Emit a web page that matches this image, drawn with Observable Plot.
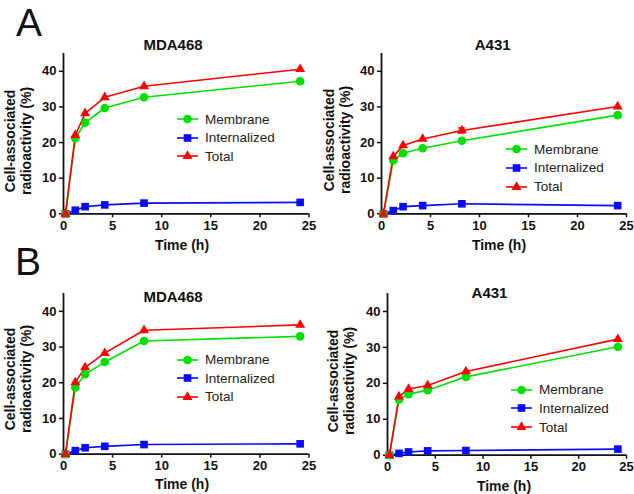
<!DOCTYPE html>
<html><head><meta charset="utf-8">
<script src="https://cdn.jsdelivr.net/npm/d3@7"></script>
<script src="https://cdn.jsdelivr.net/npm/@observablehq/plot@0.6"></script>
<style>
body{margin:0;background:#fff;}
#root{position:relative;width:634px;height:494px;overflow:hidden;font-family:"Liberation Sans",Arial,sans-serif;color:#111;}
.abs{position:absolute;white-space:nowrap;}
.plot{position:absolute;}
</style></head><body><div id="root"></div>
<script>
// ---- data ----
const times = [0.2, 1.2, 2.2, 4.2, 8.2, 24.1];
const seriesNames = ["Membrane", "Internalized", "Total"];
const panelTitles = ["MDA468", "A431", "MDA468", "A431"];
const panelLetters = ["A", "B"];
const xTicks = [0, 5, 10, 15, 20, 25];
const yTicks = [0, 10, 20, 30, 40];
const xLabel = "Time (h)";
const yLabelLines = ["Cell-associated", "radioactivity (%)"];

const membraneA_MDA = [0, 21.2, 25.6, 29.7, 32.7, 37.2];
const internalizedA_MDA = [0, 1.0, 2.0, 2.5, 3.0, 3.2];
const totalA_MDA = [0, 22.1, 28.2, 32.7, 35.8, 40.6];

const membraneA_A431 = [0, 15.0, 17.0, 18.4, 20.5, 27.7];
const internalizedA_A431 = [0, 0.9, 2.0, 2.3, 2.8, 2.3];
const totalA_A431 = [0, 16.1, 19.2, 21.0, 23.4, 30.1];
const totalErrA_A431 = [0, 0, 0, 0, 0.7, 0];

const membraneB_MDA = [0, 18.7, 22.4, 25.8, 31.7, 33.0];
const internalizedB_MDA = [0, 1.0, 1.8, 2.2, 2.7, 2.9];
const totalB_MDA = [0, 20.1, 24.3, 28.3, 34.7, 36.2];

const membraneB_A431 = [0, 15.5, 17.0, 18.1, 21.8, 30.2];
const internalizedB_A431 = [0, 0.5, 0.9, 1.2, 1.3, 1.7];
const totalB_A431 = [0, 16.3, 18.4, 19.4, 23.3, 32.3];

// ---- styles ----
const colors = ["#00e000", "#0a0aff", "#ff0000"];
const symbols = ["circle", "square", "triangle"];
const d3symbols = [d3.symbolCircle, d3.symbolSquare, d3.symbolTriangle];
const radii = [4.3, 4.3, 3.7];

const root = document.getElementById("root");

function addText(txt, cx, cy, style) {
  const d = document.createElement("div");
  d.className = "abs";
  d.textContent = txt;
  d.style.left = cx + "px";
  d.style.top = cy + "px";
  d.style.transform = "translate(-50%,-50%)";
  Object.assign(d.style, style || {});
  root.appendChild(d);
  return d;
}

function addYLabel(cx, cy) {
  const d = document.createElement("div");
  d.className = "abs";
  d.style.left = cx + "px";
  d.style.top = cy + "px";
  d.style.transform = "translate(-50%,-50%) rotate(-90deg)";
  d.style.textAlign = "center";
  d.style.fontWeight = "bold";
  d.style.fontSize = "14px";
  d.style.lineHeight = "16px";
  d.innerHTML = yLabelLines.join("<br>");
  root.appendChild(d);
}

function addLegend(x, rowYs) {
  seriesNames.forEach((name, i) => {
    const row = document.createElement("div");
    row.className = "abs";
    row.style.left = x + "px";
    row.style.top = (rowYs[i] - 9) + "px";
    row.style.height = "18px";
    row.style.display = "flex";
    row.style.alignItems = "center";
    const ns = "http://www.w3.org/2000/svg";
    const svg = document.createElementNS(ns, "svg");
    svg.setAttribute("width", 22); svg.setAttribute("height", 12);
    svg.style.overflow = "visible";
    const ln = document.createElementNS(ns, "line");
    ln.setAttribute("x1", 0); ln.setAttribute("x2", 21);
    ln.setAttribute("y1", 6); ln.setAttribute("y2", 6);
    ln.setAttribute("stroke", colors[i]); ln.setAttribute("stroke-width", 1.6);
    svg.appendChild(ln);
    const p = document.createElementNS(ns, "path");
    p.setAttribute("d", d3.symbol(d3symbols[i], Math.PI * radii[i] * radii[i])());
    p.setAttribute("transform", "translate(10.5,6)");
    p.setAttribute("fill", colors[i]);
    svg.appendChild(p);
    row.appendChild(svg);
    const t = document.createElement("span");
    t.textContent = name;
    t.style.fontSize = "13.5px";
    t.style.marginLeft = "6px";
    t.style.color = "#222";
    row.appendChild(t);
    root.appendChild(row);
  });
}

function panel(series, err, g) {
  const ml = 40, mt = 10, mr = 15, mb = 24;
  const w = g.x1 - g.x0 + ml + mr, h = g.yb - g.yt + mt + mb;
  const rows = [];
  series.forEach((vals, i) => vals.forEach((v, j) => rows.push({series: seriesNames[i], t: times[j], v, e: (i === 2 && err) ? err[j] : 0})));
  const errRows = rows.filter(d => d.e > 0);
  const order = ["Internalized", "Membrane", "Total"];
  const marks = [
    Plot.ruleY([0], {stroke: "#111", strokeWidth: 1.8}),
    Plot.ruleX([0], {stroke: "#111", strokeWidth: 1.8}),
    Plot.axisX({ticks: xTicks, tickSize: 4, tickPadding: 3, strokeWidth: 1.5, label: null, fontWeight: "bold", fontSize: 13}),
    Plot.axisY({ticks: yTicks, tickSize: 4, tickPadding: 3, strokeWidth: 1.5, label: null, fontWeight: "bold", fontSize: 13}),
  ];
  order.forEach(s => {
    const sub = rows.filter(d => d.series === s);
    marks.push(Plot.line(sub, {x: "t", y: "v", stroke: "series", strokeWidth: 1.6}));
  });
  marks.push(Plot.ruleX(errRows, {x: "t", y1: d => d.v - d.e, y2: d => d.v + d.e, stroke: "series", strokeWidth: 1.4}));
  marks.push(Plot.ruleY(errRows, {y: d => d.v + d.e, x1: d => d.t - 0.35, x2: d => d.t + 0.35, stroke: "series", strokeWidth: 1.4}));
  marks.push(Plot.ruleY(errRows, {y: d => d.v - d.e, x1: d => d.t - 0.35, x2: d => d.t + 0.35, stroke: "series", strokeWidth: 1.4}));
  order.forEach(s => {
    const sub = rows.filter(d => d.series === s);
    marks.push(Plot.dot(sub, {x: "t", y: "v", fill: "series", symbol: "series", r: radii[seriesNames.indexOf(s)]}));
  });
  const chart = Plot.plot({
    width: w, height: h,
    marginLeft: ml, marginRight: mr, marginTop: mt, marginBottom: mb,
    x: {domain: [0, 25]},
    y: {domain: [0, 45]},
    color: {domain: seriesNames, range: colors},
    symbol: {domain: seriesNames, range: symbols},
    style: {fontFamily: '"Liberation Sans", Arial, sans-serif', color: "#111", background: "transparent", overflow: "visible"},
    marks
  });
  chart.classList.add("plot");
  chart.style.left = (g.x0 - ml) + "px";
  chart.style.top = (g.yt - mt) + "px";
  root.appendChild(chart);
}

// panel geometry (layout only)
const geoms = [
  {x0: 62.5, x1: 308, yt: 53, yb: 213.3},
  {x0: 381, x1: 626, yt: 53, yb: 213.3},
  {x0: 62.5, x1: 308, yt: 293.3, yb: 454},
  {x0: 387, x1: 626, yt: 293, yb: 454.7}
];
const panelSeries = [
  [membraneA_MDA, internalizedA_MDA, totalA_MDA],
  [membraneA_A431, internalizedA_A431, totalA_A431],
  [membraneB_MDA, internalizedB_MDA, totalB_MDA],
  [membraneB_A431, internalizedB_A431, totalB_A431]
];
const panelErr = [null, totalErrA_A431, null, null];
panelSeries.forEach((s, i) => panel(s, panelErr[i], geoms[i]));

// titles
const titlePos = [[173, 44], [492.7, 44], [173, 295.7], [489.5, 292.3]];
panelTitles.forEach((t, i) => addText(t, titlePos[i][0], titlePos[i][1], {fontWeight: "bold", fontSize: "15px"}));
// x labels
const xlPos = [[182, 245], [499, 245], [182, 484], [504, 485.5]];
xlPos.forEach(p => addText(xLabel, p[0], p[1], {fontWeight: "bold", fontSize: "14px"}));
// y labels
[[18, 141], [337, 140], [18, 379], [341, 380.5]].forEach(p => addYLabel(p[0], p[1]));
// legends
addLegend(177, [119, 137.7, 156]);
addLegend(506, [149, 167.7, 186.7]);
addLegend(177, [359.7, 378.3, 396.7]);
addLegend(511, [389.7, 408.3, 427.3]);
// panel letters
const letterPos = [[16, 1], [15, 240]];
panelLetters.forEach((L, i) => {
  const d = document.createElement("div");
  d.className = "abs";
  d.textContent = L;
  d.style.left = letterPos[i][0] + "px";
  d.style.top = letterPos[i][1] + "px";
  d.style.fontSize = "39px";
  d.style.lineHeight = "44px";
  root.appendChild(d);
});
</script></body></html>
